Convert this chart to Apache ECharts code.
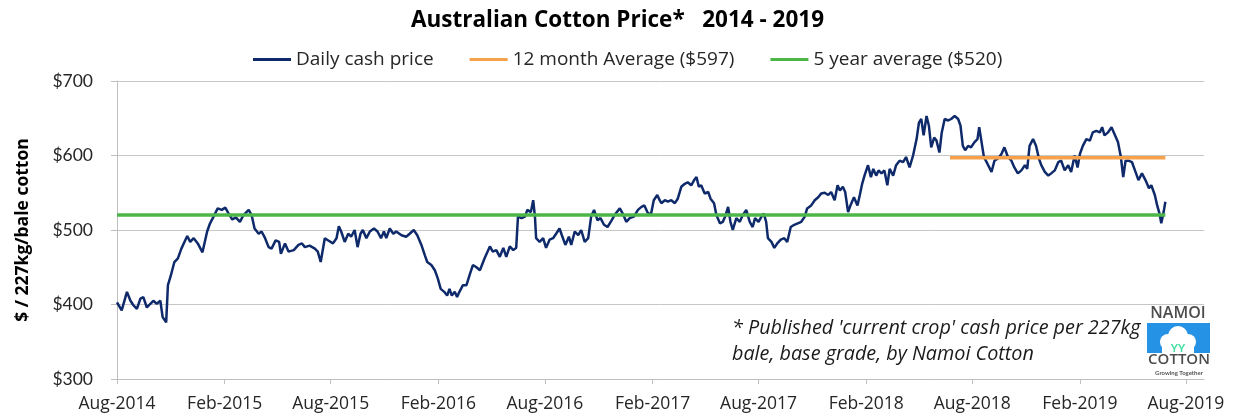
<!DOCTYPE html>
<html>
<head>
<meta charset="utf-8">
<script src="https://cdn.jsdelivr.net/npm/echarts@6/dist/echarts.min.js"></script>
<style>
html,body{margin:0;padding:0;background:#fff;}
#chart{width:1235px;height:416px;}
</style>
</head>
<body>
<div id="chart"></div>
<script>
// ---- Data ----
const dates = [
'2014-08-01','2014-08-09','2014-08-18','2014-08-24','2014-08-29','2014-09-04','2014-09-10','2014-09-15','2014-09-21','2014-09-27',
'2014-10-02','2014-10-08','2014-10-14','2014-10-18','2014-10-24','2014-10-27','2014-11-01','2014-11-07','2014-11-13','2014-11-19',
'2014-11-23','2014-11-29','2014-12-04','2014-12-10','2014-12-17','2014-12-25','2015-01-02','2015-01-07','2015-01-13','2015-01-20',
'2015-01-27','2015-02-02','2015-02-07','2015-02-14','2015-02-20','2015-02-27','2015-03-05','2015-03-14','2015-03-19','2015-03-24',
'2015-03-31','2015-04-05','2015-04-11','2015-04-17','2015-04-22','2015-04-29','2015-05-05','2015-05-08','2015-05-15','2015-05-21',
'2015-05-30','2015-06-07','2015-06-13',
'2015-06-18','2015-06-26','2015-07-05','2015-07-10','2015-07-15','2015-07-22','2015-07-28','2015-08-05','2015-08-11','2015-08-15',
'2015-08-19','2015-08-25','2015-08-31','2015-09-05','2015-09-11','2015-09-16','2015-09-21','2015-09-25','2015-10-01','2015-10-07',
'2015-10-14','2015-10-20','2015-10-26','2015-10-31','2015-11-04','2015-11-10','2015-11-16','2015-11-21','2015-11-30','2015-12-08',
'2015-12-14','2015-12-21','2015-12-27','2016-01-03','2016-01-09','2016-01-13','2016-01-20','2016-01-26','2016-01-31','2016-02-05',
'2016-02-11','2016-02-16','2016-02-20','2016-02-24','2016-02-29','2016-03-04','2016-03-08','2016-03-14','2016-03-20','2016-03-26',
'2016-03-31','2016-04-06','2016-04-12',
'2016-04-20','2016-04-29','2016-05-04','2016-05-10','2016-05-16','2016-05-22','2016-05-27','2016-06-02','2016-06-08','2016-06-13',
'2016-06-16','2016-06-22','2016-06-28','2016-07-02','2016-07-08','2016-07-12','2016-07-15','2016-07-17','2016-07-23','2016-07-29',
'2016-08-03','2016-08-09','2016-08-15','2016-08-21','2016-08-26','2016-08-30','2016-09-05','2016-09-11','2016-09-15','2016-09-21',
'2016-09-27','2016-10-02','2016-10-08','2016-10-14','2016-10-19','2016-10-24','2016-10-30','2016-11-04','2016-11-10','2016-11-16',
'2016-11-23','2016-11-28','2016-12-07','2016-12-12','2016-12-18','2016-12-24','2016-12-31','2017-01-07','2017-01-13','2017-01-18',
'2017-01-23','2017-01-29','2017-02-03','2017-02-09','2017-02-13',
'2017-02-16','2017-02-22','2017-02-27','2017-03-05','2017-03-11','2017-03-16','2017-03-22','2017-03-28','2017-04-02','2017-04-08',
'2017-04-13','2017-04-17','2017-04-21','2017-04-25','2017-05-01','2017-05-07','2017-05-11','2017-05-17','2017-05-21','2017-05-27',
'2017-06-01','2017-06-05','2017-06-10','2017-06-14','2017-06-18','2017-06-24','2017-06-30','2017-07-05','2017-07-11','2017-07-17',
'2017-07-22','2017-07-26','2017-08-01','2017-08-06','2017-08-10','2017-08-14','2017-08-17','2017-08-23','2017-08-28','2017-09-02',
'2017-09-08','2017-09-14','2017-09-19','2017-09-25','2017-10-01','2017-10-07','2017-10-13','2017-10-19','2017-10-23','2017-10-30',
'2017-11-05','2017-11-11','2017-11-16','2017-11-22','2017-11-28','2017-12-03','2017-12-09','2017-12-14','2017-12-18',
'2017-12-23','2017-12-27','2018-01-01','2018-01-05','2018-01-11','2018-01-17','2018-01-21','2018-01-25','2018-01-29','2018-02-04',
'2018-02-09','2018-02-13','2018-02-18','2018-02-22','2018-02-27','2018-03-04','2018-03-09','2018-03-13','2018-03-19','2018-03-24',
'2018-03-30','2018-04-05','2018-04-10','2018-04-16','2018-04-22','2018-04-28','2018-05-02','2018-05-06','2018-05-10','2018-05-15',
'2018-05-19','2018-05-23','2018-05-28','2018-06-01','2018-06-06','2018-06-10','2018-06-15','2018-06-21','2018-06-26','2018-07-02',
'2018-07-08','2018-07-12','2018-07-16','2018-07-20','2018-07-25','2018-07-30','2018-08-05','2018-08-10','2018-08-13','2018-08-17',
'2018-08-21','2018-08-27','2018-09-03','2018-09-08','2018-09-14','2018-09-20','2018-09-25','2018-10-01','2018-10-07','2018-10-12',
'2018-10-18',
'2018-10-24','2018-10-30','2018-11-03','2018-11-07','2018-11-13','2018-11-18','2018-11-23','2018-11-27','2018-12-03','2018-12-09',
'2018-12-14','2018-12-20','2018-12-26','2018-12-31','2019-01-06','2019-01-12','2019-01-17','2019-01-23','2019-01-28','2019-02-01',
'2019-02-06','2019-02-12','2019-02-18','2019-02-23','2019-03-01','2019-03-07','2019-03-11','2019-03-15','2019-03-21','2019-03-27',
'2019-04-01','2019-04-07','2019-04-12','2019-04-16','2019-04-20','2019-04-25','2019-05-01','2019-05-07','2019-05-12','2019-05-18',
'2019-05-24','2019-05-30','2019-06-03','2019-06-09','2019-06-13','2019-06-17','2019-06-20','2019-06-24','2019-06-27'
];
const dailyPrice = [
403,392,417,405,399,394,408,410,396,401,
405,401,405,383,376,426,439,457,462,475,
482,492,484,489,482,470,498,509,518,529,
527,530,523,514,517,511,520,527,520,502,
495,498,489,477,475,486,484,468,482,471,
473,480,482,
477,479,475,471,457,489,486,482,489,505,
498,484,495,491,500,477,495,500,489,498,
502,498,489,498,489,502,495,498,493,491,
495,500,493,480,466,457,453,446,435,421,
417,412,421,412,417,410,417,426,426,441,
453,450,446,
462,478,471,473,464,476,464,478,473,476,
518,516,518,527,524,540,518,489,484,489,
476,487,489,496,502,493,480,491,480,498,
493,500,484,489,518,527,513,516,507,504,
513,520,529,522,511,516,518,527,531,533,
524,520,540,547,540,
536,540,538,540,536,542,558,562,564,560,
567,571,558,560,549,551,542,536,520,509,
511,518,531,511,500,516,511,520,527,511,
504,516,511,518,522,511,489,484,476,482,
487,489,484,504,507,509,511,518,529,533,
540,544,549,550,547,551,540,560,553,
558,551,524,533,544,533,547,562,573,587,
571,582,573,580,576,580,560,582,573,587,
593,591,598,584,600,622,644,649,627,653,
640,611,624,620,604,631,649,647,649,653,
649,640,613,607,613,611,618,622,638,618,
598,589,578,593,596,602,611,598,593,584,
576,
580,587,582,613,622,613,596,587,578,573,
576,580,591,593,580,587,578,600,584,602,
613,622,620,631,633,631,638,627,631,638,
629,618,598,571,593,593,591,578,567,576,
567,556,560,547,533,522,509,524,538
];
const avg12Dates = ['2018-06-24','2019-06-27'];
const avg12Value = 597;
const avg5Dates = ['2014-08-01','2019-06-27'];
const avg5Value = 520;
const seriesNames = ['Daily cash price','12 month Average ($597)','5 year average ($520)'];
const tickDates = ['2014-08-01','2015-02-01','2015-08-01','2016-02-01','2016-08-01','2017-02-01','2017-08-01','2018-02-01','2018-08-01','2019-02-01','2019-08-01'];
const tickLabels = ['Aug-2014','Feb-2015','Aug-2015','Feb-2016','Aug-2016','Feb-2017','Aug-2017','Feb-2018','Aug-2018','Feb-2019','Aug-2019'];
const xStart = '2014-08-01', xEnd = '2019-09-01';
const titleText = 'Australian Cotton Price*   2014 - 2019';
const yAxisName = '$ / 227kg/bale cotton';
const noteLines = ["* Published 'current crop' cash price per 227kg", 'bale, base grade, by Namoi Cotton'];

// ---- Build ----
const T = s => Date.parse(s);
const tickVals = tickDates.map(T);
const labelOf = v => { const i = tickVals.indexOf(v); return i >= 0 ? tickLabels[i] : ''; };
const FONT = '"Open Sans", Lato, sans-serif';
const FONT2 = 'Lato, "Open Sans", sans-serif';

const chart = echarts.init(document.getElementById('chart'), null, {renderer: 'canvas'});
chart.setOption({
  animation: false,
  backgroundColor: '#ffffff',
  textStyle: {fontFamily: FONT},
  title: {
    text: titleText, left: 'center', top: 4,
    textStyle: {fontFamily: FONT, fontSize: 22.5, fontWeight: 'bold', color: '#000'}
  },
  legend: {
    left: 248, top: 45,
    icon: 'rect', itemWidth: 38, itemHeight: 3, itemGap: 36,
    data: seriesNames,
    textStyle: {fontFamily: FONT, fontSize: 19, color: '#262626'}
  },
  grid: {left: 117, right: 31, top: 81, bottom: 37, containLabel: false},
  xAxis: {
    type: 'value', min: T(xStart), max: T(xEnd),
    splitLine: {show: false},
    axisLine: {show: true, lineStyle: {color: '#bfbfbf', width: 1}},
    axisTick: {show: true, length: 5, customValues: tickVals, lineStyle: {color: '#bfbfbf'}},
    axisLabel: {customValues: tickVals, formatter: labelOf, margin: 16, fontSize: 17.5, color: '#262626', fontFamily: FONT}
  },
  yAxis: {
    type: 'value', min: 300, max: 700, interval: 100,
    name: yAxisName, nameLocation: 'middle', nameGap: 85,
    nameTextStyle: {fontFamily: FONT, fontSize: 17.5, fontWeight: 'bold', color: '#000'},
    axisLine: {show: true, lineStyle: {color: '#bfbfbf'}},
    axisTick: {show: true, length: 6, lineStyle: {color: '#bfbfbf'}},
    splitLine: {show: true, lineStyle: {color: '#c6c6c6', width: 1}},
    axisLabel: {formatter: v => '$' + v, margin: 24, fontSize: 17.5, color: '#262626', fontFamily: FONT2}
  },
  series: [
    {
      name: seriesNames[0], type: 'line', showSymbol: false, symbol: 'none',
      data: dates.map((d, i) => [T(d), dailyPrice[i]]),
      lineStyle: {color: '#0f2a6b', width: 2.5}, itemStyle: {color: '#0f2a6b'}, z: 2
    },
    {
      name: seriesNames[1], type: 'line', showSymbol: false, symbol: 'none',
      data: avg12Dates.map(d => [T(d), avg12Value]),
      lineStyle: {color: '#f7a24b', width: 3.5}, itemStyle: {color: '#f7a24b'}, z: 3
    },
    {
      name: seriesNames[2], type: 'line', showSymbol: false, symbol: 'none',
      data: avg5Dates.map(d => [T(d), avg5Value]),
      lineStyle: {color: '#4cb648', width: 3.5}, itemStyle: {color: '#4cb648'}, z: 4
    }
  ],
  graphic: [
    {
      type: 'text', left: 732, top: 315,
      style: {text: noteLines.join('\n'), font: 'italic 19.8px ' + FONT, fill: '#1a1a1a', lineHeight: 26}
    },
    {
      type: 'group', left: 1147, top: 305,
      children: [
        {type: 'text', x: 34, y: 0, style: {text: 'NAMOI', font: '600 16px ' + FONT, fill: '#4d4d4d', align: 'center'}},
        {type: 'rect', shape: {x: 3, y: 18, width: 63, height: 30}, style: {fill: '#2592e6'}},
        {type: 'circle', shape: {cx: 34, cy: 31, r: 10}, style: {fill: '#fff'}},
        {type: 'circle', shape: {cx: 24, cy: 37, r: 8}, style: {fill: '#fff'}},
        {type: 'circle', shape: {cx: 44, cy: 37, r: 8}, style: {fill: '#fff'}},
        {type: 'rect', shape: {x: 18, y: 37, width: 32, height: 11}, style: {fill: '#fff'}},
        {type: 'text', x: 34, y: 38, style: {text: 'YY', font: 'bold 11px ' + FONT2, fill: '#3fe0a2', align: 'center'}},
        {type: 'text', x: 35, y: 47, style: {text: 'COTTON', font: '600 15px ' + FONT, fill: '#4d4d4d', align: 'center'}},
        {type: 'text', x: 35, y: 65, style: {text: 'Growing Together', font: 'bold 6px ' + FONT2, fill: '#555', align: 'center'}}
      ]
    }
  ]
});
</script>
</body>
</html>
